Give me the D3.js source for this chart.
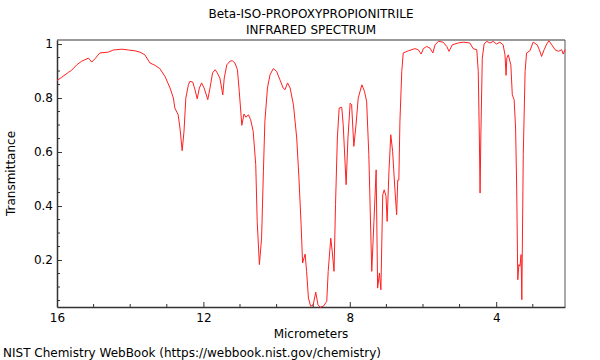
<!DOCTYPE html>
<html>
<head>
<meta charset="utf-8">
<script src="https://cdn.jsdelivr.net/npm/d3@7"></script>
<style>
  body { margin: 0; background: #fff; }
  text { font-family: "DejaVu Sans", sans-serif; font-size: 12px; fill: #000; }
</style>
</head>
<body>
<svg id="chart" width="600" height="360"></svg>
<script>
// spectrum: wavelength (micrometers) and transmittance
var micrometers = [16.00, 15.87, 15.69, 15.60, 15.46, 15.33, 15.14, 15.05, 14.96, 14.83, 14.60, 14.46, 14.23, 14.05, 13.87,
    13.73, 13.60, 13.46, 13.32, 13.19, 13.05, 12.91, 12.82, 12.78, 12.69, 12.64, 12.58, 12.53, 12.48, 12.41,
    12.37, 12.29, 12.23, 12.17, 12.11, 12.05, 11.98, 11.88, 11.82, 11.75, 11.68, 11.62, 11.55, 11.47, 11.43,
    11.36, 11.27, 11.21, 11.14, 11.07, 11.02, 10.95, 10.89, 10.84, 10.77, 10.71, 10.64, 10.57, 10.53, 10.47,
    10.41, 10.36, 10.32, 10.25, 10.18, 10.09, 10.00, 9.91, 9.82, 9.77, 9.70, 9.63, 9.54, 9.45, 9.39,
    9.33, 9.29, 9.22, 9.18, 9.13, 9.07, 9.00, 8.93, 8.87, 8.81, 8.72, 8.63, 8.59, 8.52, 8.48,
    8.43, 8.39, 8.34, 8.29, 8.22, 8.18, 8.10, 8.05, 7.99, 7.95, 7.89, 7.83, 7.77, 7.67, 7.60,
    7.54, 7.48, 7.40, 7.34, 7.28, 7.24, 7.19, 7.15, 7.10, 7.06, 7.01, 6.98, 6.93, 6.88, 6.83,
    6.77, 6.72, 6.69, 6.66, 6.63, 6.58, 6.54, 6.40, 6.22, 6.13, 6.05, 5.99, 5.90, 5.81, 5.73,
    5.67, 5.58, 5.45, 5.35, 5.29, 5.20, 5.04, 4.90, 4.72, 4.63, 4.53, 4.49, 4.46, 4.44, 4.42,
    4.38, 4.33, 4.26, 4.17, 4.08, 3.99, 3.90, 3.81, 3.76, 3.73, 3.71, 3.67, 3.60, 3.56, 3.51,
    3.47, 3.44, 3.41, 3.38, 3.35, 3.32, 3.30, 3.26, 3.21, 3.17, 3.08, 2.99, 2.88, 2.82, 2.76,
    2.69, 2.62, 2.56, 2.48, 2.39, 2.30, 2.21, 2.17, 2.12];
var transmittance = [0.865, 0.877, 0.895, 0.903, 0.923, 0.936, 0.948, 0.933, 0.946, 0.967, 0.970, 0.978, 0.981, 0.978, 0.975,
    0.970, 0.960, 0.930, 0.921, 0.909, 0.880, 0.837, 0.800, 0.763, 0.738, 0.689, 0.605, 0.677, 0.800, 0.849,
    0.862, 0.859, 0.831, 0.797, 0.837, 0.856, 0.837, 0.794, 0.837, 0.893, 0.905, 0.893, 0.874, 0.812, 0.874,
    0.923, 0.937, 0.938, 0.930, 0.905, 0.825, 0.699, 0.741, 0.729, 0.738, 0.720, 0.677, 0.553, 0.343, 0.183,
    0.281, 0.529, 0.714, 0.837, 0.886, 0.909, 0.899, 0.868, 0.837, 0.831, 0.856, 0.837, 0.775, 0.652, 0.504,
    0.331, 0.189, 0.222, 0.158, 0.059, 0.029, 0.034, 0.081, 0.034, 0.025, 0.029, 0.047, 0.158, 0.281, 0.232,
    0.158, 0.405, 0.652, 0.763, 0.766, 0.701, 0.479, 0.652, 0.781, 0.775, 0.621, 0.701, 0.800, 0.849, 0.825,
    0.788, 0.590, 0.158, 0.343, 0.534, 0.096, 0.152, 0.090, 0.442, 0.460, 0.436, 0.343, 0.529, 0.664, 0.603,
    0.467, 0.368, 0.496, 0.496, 0.714, 0.899, 0.967, 0.975, 0.983, 0.979, 0.963, 0.983, 0.991, 0.985, 0.967,
    0.997, 1.010, 1.007, 0.991, 0.973, 0.997, 1.004, 1.007, 1.004, 0.983, 0.979, 0.899, 0.652, 0.448, 0.652,
    0.948, 1.000, 1.010, 1.004, 1.010, 1.000, 1.007, 0.997, 0.960, 0.884, 0.948, 0.960, 0.923, 0.812, 0.794,
    0.689, 0.467, 0.127, 0.183, 0.177, 0.220, 0.053, 0.590, 0.899, 0.967, 0.975, 1.007, 0.997, 0.979, 0.954,
    0.979, 1.000, 1.012, 0.997, 0.979, 0.973, 0.979, 0.963, 0.979];

var xTicks = [16, 12, 8, 4];
var yTicks = [0.2, 0.4, 0.6, 0.8, 1];

function draw() {
    var x0 = 57, x1 = 565, y0 = 40, y1 = 307; // plot frame
    var svg = d3.select("#chart");

    var x = d3.scaleLinear().domain([16, 2.12]).range([x0, x1]);
    var y = d3.scaleLinear().domain([0.026, 1.015]).range([y1, y0]);

    var points = micrometers.map((m, i) => [m, transmittance[i]]);

    // frame: top and right
    svg.append("line").attr("x1", x0).attr("x2", x1).attr("y1", y0).attr("y2", y0)
        .attr("stroke", "#999").attr("stroke-width", 2);
    svg.append("line").attr("x1", x1).attr("x2", x1).attr("y1", y0).attr("y2", y1)
        .attr("stroke", "#555").attr("stroke-width", 1);

    // minor ticks (inside)
    var minorX = d3.range(3, 16, 1).filter(v => xTicks.indexOf(v) < 0);
    var minorY = d3.range(1, 20).map(v => +(v * 0.05).toFixed(2)).filter(v => yTicks.indexOf(v) < 0);

    var xAxis = svg.append("g").attr("transform", "translate(0," + y1 + ")")
        .call(d3.axisBottom(x).tickValues(xTicks).tickFormat(d3.format("d")).tickSizeInner(-5).tickSizeOuter(0).tickPadding(6));
    xAxis.append("g").selectAll("line").data(minorX).enter().append("line")
        .attr("x1", d => x(d)).attr("x2", d => x(d)).attr("y1", 0).attr("y2", -3).attr("stroke", "#333");

    var yAxis = svg.append("g").attr("transform", "translate(" + x0 + ",0)")
        .call(d3.axisLeft(y).tickValues(yTicks).tickFormat(d => d === 1 ? "1" : d3.format(".1f")(d)).tickSizeInner(-5).tickSizeOuter(0).tickPadding(4));
    yAxis.append("g").selectAll("line").data(minorY).enter().append("line")
        .attr("x1", 0).attr("x2", 3).attr("y1", d => y(d)).attr("y2", d => y(d)).attr("stroke", "#333");

    svg.selectAll(".domain").attr("stroke", "#333").attr("stroke-width", 1.5);
    svg.selectAll(".tick line").attr("stroke", "#333");
    svg.selectAll(".tick text").attr("font-size", 12).attr("font-family", "DejaVu Sans, sans-serif").attr("fill", "#000");

    // spectrum
    var line = d3.line().x(d => x(d[0])).y(d => y(d[1]));
    svg.append("path").datum(points)
        .attr("d", line)
        .attr("fill", "none")
        .attr("stroke", "#ff2020")
        .attr("stroke-width", 1);

    // titles
    var cx = (x0 + x1) / 2;
    svg.append("text").attr("x", cx).attr("y", 18).attr("text-anchor", "middle")
        .text("Beta-ISO-PROPOXYPROPIONITRILE");
    svg.append("text").attr("x", cx).attr("y", 34).attr("text-anchor", "middle")
        .text("INFRARED SPECTRUM");
    svg.append("text").attr("x", cx).attr("y", 338).attr("text-anchor", "middle")
        .text("Micrometers");
    svg.append("text").attr("transform", "translate(15," + ((y0 + y1) / 2) + ") rotate(-90)")
        .attr("text-anchor", "middle").text("Transmittance");
    svg.append("text").attr("x", 3).attr("y", 357).text("NIST Chemistry WebBook (https://webbook.nist.gov/chemistry)");
}
draw();
</script>
</body>
</html>
